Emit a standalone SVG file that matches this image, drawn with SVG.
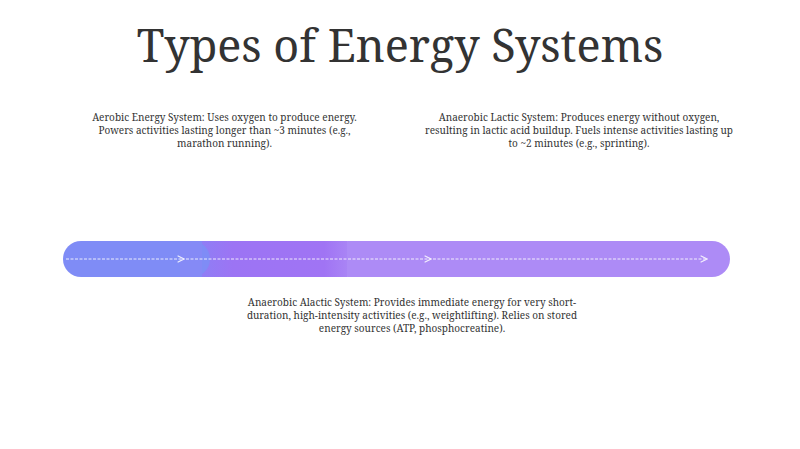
<svg xmlns="http://www.w3.org/2000/svg" width="800" height="449" viewBox="0 0 800 449">
  <defs>
    <style>
      .title { font-family: "Noto Serif", "DejaVu Serif", serif; font-size: 45px; fill: #333333; text-anchor: middle; }
      .lbl { font-family: "Noto Serif", "DejaVu Serif", serif; font-size: 10px; fill: #333333; text-anchor: middle; }
      .conn { stroke: #ffffff; stroke-width: 1; fill: none; stroke-dasharray: 3 1.5; opacity: 0.85; }
    </style>
    <linearGradient id="midg" x1="0" y1="0" x2="1" y2="0">
      <stop offset="0" stop-color="#8d80f5"/>
      <stop offset="0.25" stop-color="#9c74f4"/>
      <stop offset="0.85" stop-color="#a074f4"/>
      <stop offset="1" stop-color="#a984f5"/>
    </linearGradient>
    <marker id="arr" viewBox="0 0 10 10" refX="9" refY="5" markerWidth="8" markerHeight="8" markerUnits="userSpaceOnUse" orient="auto">
      <path d="M1,1 L9,5 L1,9" fill="none" stroke="#ffffff" stroke-width="1.5"/>
    </marker>
  </defs>
  <rect width="800" height="449" fill="#ffffff"/>
  <text class="title" x="400" y="62">Types of Energy Systems</text>

  <g id="lactic-bar">
    <rect x="330" y="241" width="400" height="36" rx="18" fill="#ad8bf6"/>
  </g>
  <g id="mid-bar">
    <rect x="195" y="241" width="152" height="36" fill="url(#midg)"/>
  </g>
  <g id="aerobic-bar">
    <rect x="63" y="241" width="147" height="36" rx="18" fill="#7f8cf6"/>
    <rect x="180" y="241" width="22" height="36" fill="#858af6"/>
  </g>

  <g id="aerobic">
    <text class="lbl" x="224.5" y="121">Aerobic Energy System: Uses oxygen to produce energy.</text>
    <text class="lbl" x="224.5" y="134">Powers activities lasting longer than ~3 minutes (e.g.,</text>
    <text class="lbl" x="224.5" y="147">marathon running).</text>
  </g>
  <g id="lactic">
    <text class="lbl" x="579" y="121">Anaerobic Lactic System: Produces energy without oxygen,</text>
    <text class="lbl" x="579" y="134">resulting in lactic acid buildup. Fuels intense activities lasting up</text>
    <text class="lbl" x="579" y="147">to ~2 minutes (e.g., sprinting).</text>
  </g>
  <g id="alactic">
    <text class="lbl" x="412" y="306">Anaerobic Alactic System: Provides immediate energy for very short-</text>
    <text class="lbl" x="412" y="319">duration, high-intensity activities (e.g., weightlifting). Relies on stored</text>
    <text class="lbl" x="412" y="332">energy sources (ATP, phosphocreatine).</text>
  </g>

  <g id="connectors">
    <path class="conn" d="M66,259 L184,259" marker-end="url(#arr)"/>
    <path class="conn" d="M186,259 L431,259" marker-end="url(#arr)"/>
    <path class="conn" d="M433,259 L707,259" marker-end="url(#arr)"/>
  </g>
</svg>
